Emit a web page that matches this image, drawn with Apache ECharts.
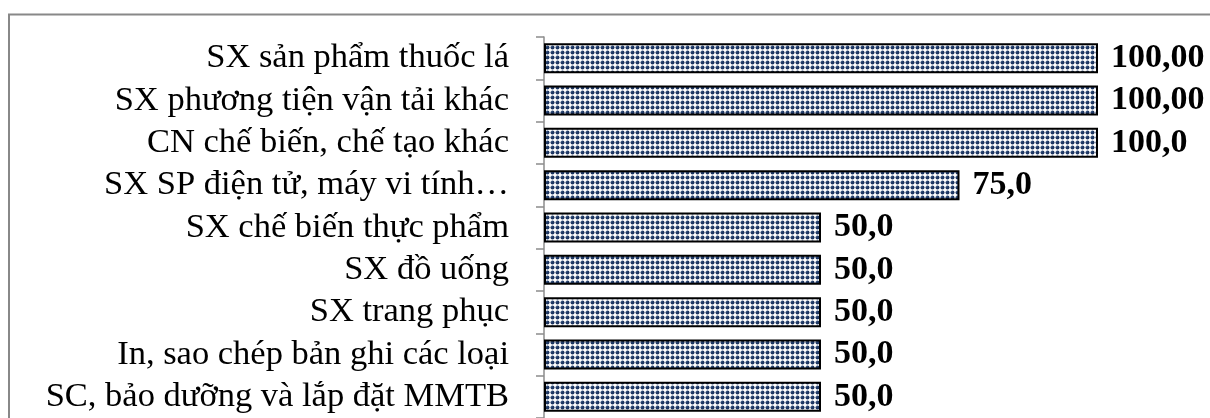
<!DOCTYPE html>
<html><head><meta charset="utf-8">
<script src="https://cdn.jsdelivr.net/npm/echarts@6/dist/echarts.min.js"></script>
<style>html,body{margin:0;padding:0;background:#fff}#c{width:1210px;height:418px}</style>
</head><body><div id="c"></div>
<script>
const categories = [
  "SX sản phẩm thuốc lá",
  "SX phương tiện vận tải khác",
  "CN chế biến, chế tạo khác",
  "SX SP điện tử, máy vi tính…",
  "SX chế biến thực phẩm",
  "SX đồ uống",
  "SX trang phục",
  "In, sao chép bản ghi các loại",
  "SC, bảo dưỡng và lắp đặt MMTB"
];
const values = [100, 100, 100, 75, 50, 50, 50, 50, 50];
const valueLabels = ["100,00", "100,00", "100,0", "75,0", "50,0", "50,0", "50,0", "50,0", "50,0"];

// pattern tile: navy dots on white
const tile = document.createElement('canvas');
tile.width = 10; tile.height = 10;
const g = tile.getContext('2d');
g.fillStyle = '#ffffff'; g.fillRect(0, 0, 10, 10);
[[2.5,2.5],[7.5,2.5],[2.5,7.5],[7.5,7.5]].forEach(([x,y]) => {
  g.fillStyle = '#1c3561';
  g.beginPath(); g.arc(x, y, 2.0, 0, Math.PI*2); g.fill();
  g.fillStyle = '#56729c';
  g.beginPath(); g.arc(x - 0.7, y - 0.8, 0.6, 0, Math.PI*2); g.fill();
});

const chart = echarts.init(document.getElementById('c'), null, {renderer: 'canvas'});
chart.setOption({
  animation: false,
  grid: {left: 544, top: 37, width: 554, height: 381},
  xAxis: {type: 'value', min: 0, max: 100, show: false},
  yAxis: {
    type: 'category', data: categories, inverse: true,
    axisLine: {show: true, lineStyle: {color: '#8c8c8c', width: 1.5}},
    axisTick: {show: true, length: 8, interval: 0, lineStyle: {color: '#8c8c8c', width: 1.5}},
    axisLabel: {margin: 35, interval: 0, color: '#000', fontFamily: 'Liberation Serif', fontSize: 34.5}
  },
  series: [{
    type: 'bar', data: values, barWidth: 30,
    itemStyle: {color: {image: tile, repeat: 'repeat'}, borderColor: '#000', borderWidth: 2},
    label: {
      show: true, position: 'right', distance: 13,
      formatter: p => valueLabels[p.dataIndex],
      color: '#000', fontFamily: 'Liberation Serif', fontWeight: 'bold', fontSize: 34
    }
  }],
  graphic: [{
    type: 'rect', silent: true, z: 100,
    shape: {x: 9, y: 14.5, width: 1400, height: 600},
    style: {fill: null, stroke: '#888888', lineWidth: 2}
  }]
});
</script></body></html>
